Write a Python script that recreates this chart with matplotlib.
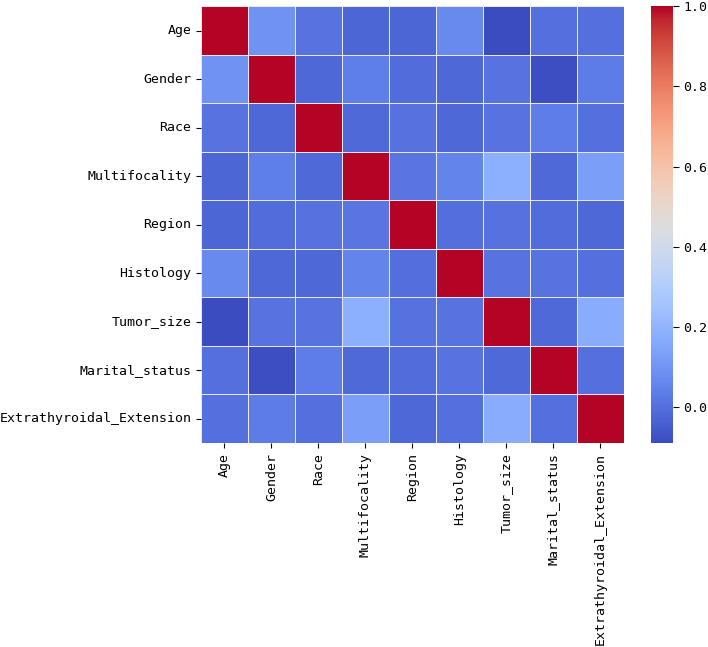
import numpy as np
import pandas as pd
import matplotlib
matplotlib.use('Agg')
import matplotlib.pyplot as plt
import seaborn as sns

# variable names (rows and columns of the correlation matrix)
features = ['Age', 'Gender', 'Race', 'Multifocality', 'Region', 'Histology',
            'Tumor_size', 'Marital_status', 'Extrathyroidal_Extension']

# correlation values
corr_rows = [
    [1.000, 0.095, 0.010, -0.025, -0.025, 0.070, -0.091, 0.000, 0.000],
    [0.095, 1.000, -0.020, 0.040, -0.010, -0.020, 0.010, -0.085, 0.030],
    [0.010, -0.020, 1.000, -0.015, 0.005, -0.020, 0.010, 0.035, 0.000],
    [-0.025, 0.040, -0.015, 1.000, 0.015, 0.050, 0.180, -0.015, 0.130],
    [-0.025, -0.010, 0.005, 0.015, 1.000, -0.005, 0.005, -0.010, -0.020],
    [0.070, -0.020, -0.020, 0.050, -0.005, 1.000, 0.010, 0.010, 0.000],
    [-0.091, 0.010, 0.010, 0.180, 0.005, 0.010, 1.000, -0.015, 0.170],
    [0.000, -0.085, 0.035, -0.015, -0.010, 0.010, -0.015, 1.000, 0.000],
    [0.000, 0.030, 0.000, 0.130, -0.020, 0.000, 0.170, 0.000, 1.000],
]

corr = pd.DataFrame(np.array(corr_rows), index=features, columns=features)

plt.rcParams['font.family'] = ['DejaVu Sans Mono']
plt.rcParams['font.size'] = 9.5

fig = plt.figure(figsize=(7.08, 6.47), dpi=100)
ax = fig.add_axes([0.2839, 0.3153, 0.597, 0.6747])
cax = fig.add_axes([0.919, 0.3153, 0.0311, 0.6747])

sns.heatmap(corr, cmap='coolwarm', linewidths=0.5, linecolor='#e8e8f0',
            ax=ax, cbar_ax=cax)

ax.tick_params(axis='x', labelrotation=90)
ax.tick_params(axis='y', labelrotation=0)
cax.set_yticks([0.0, 0.2, 0.4, 0.6, 0.8, 1.0])
cax.tick_params(length=4)
for s in cax.spines.values():
    s.set_visible(False)

fig.savefig('out.png', dpi=100)
